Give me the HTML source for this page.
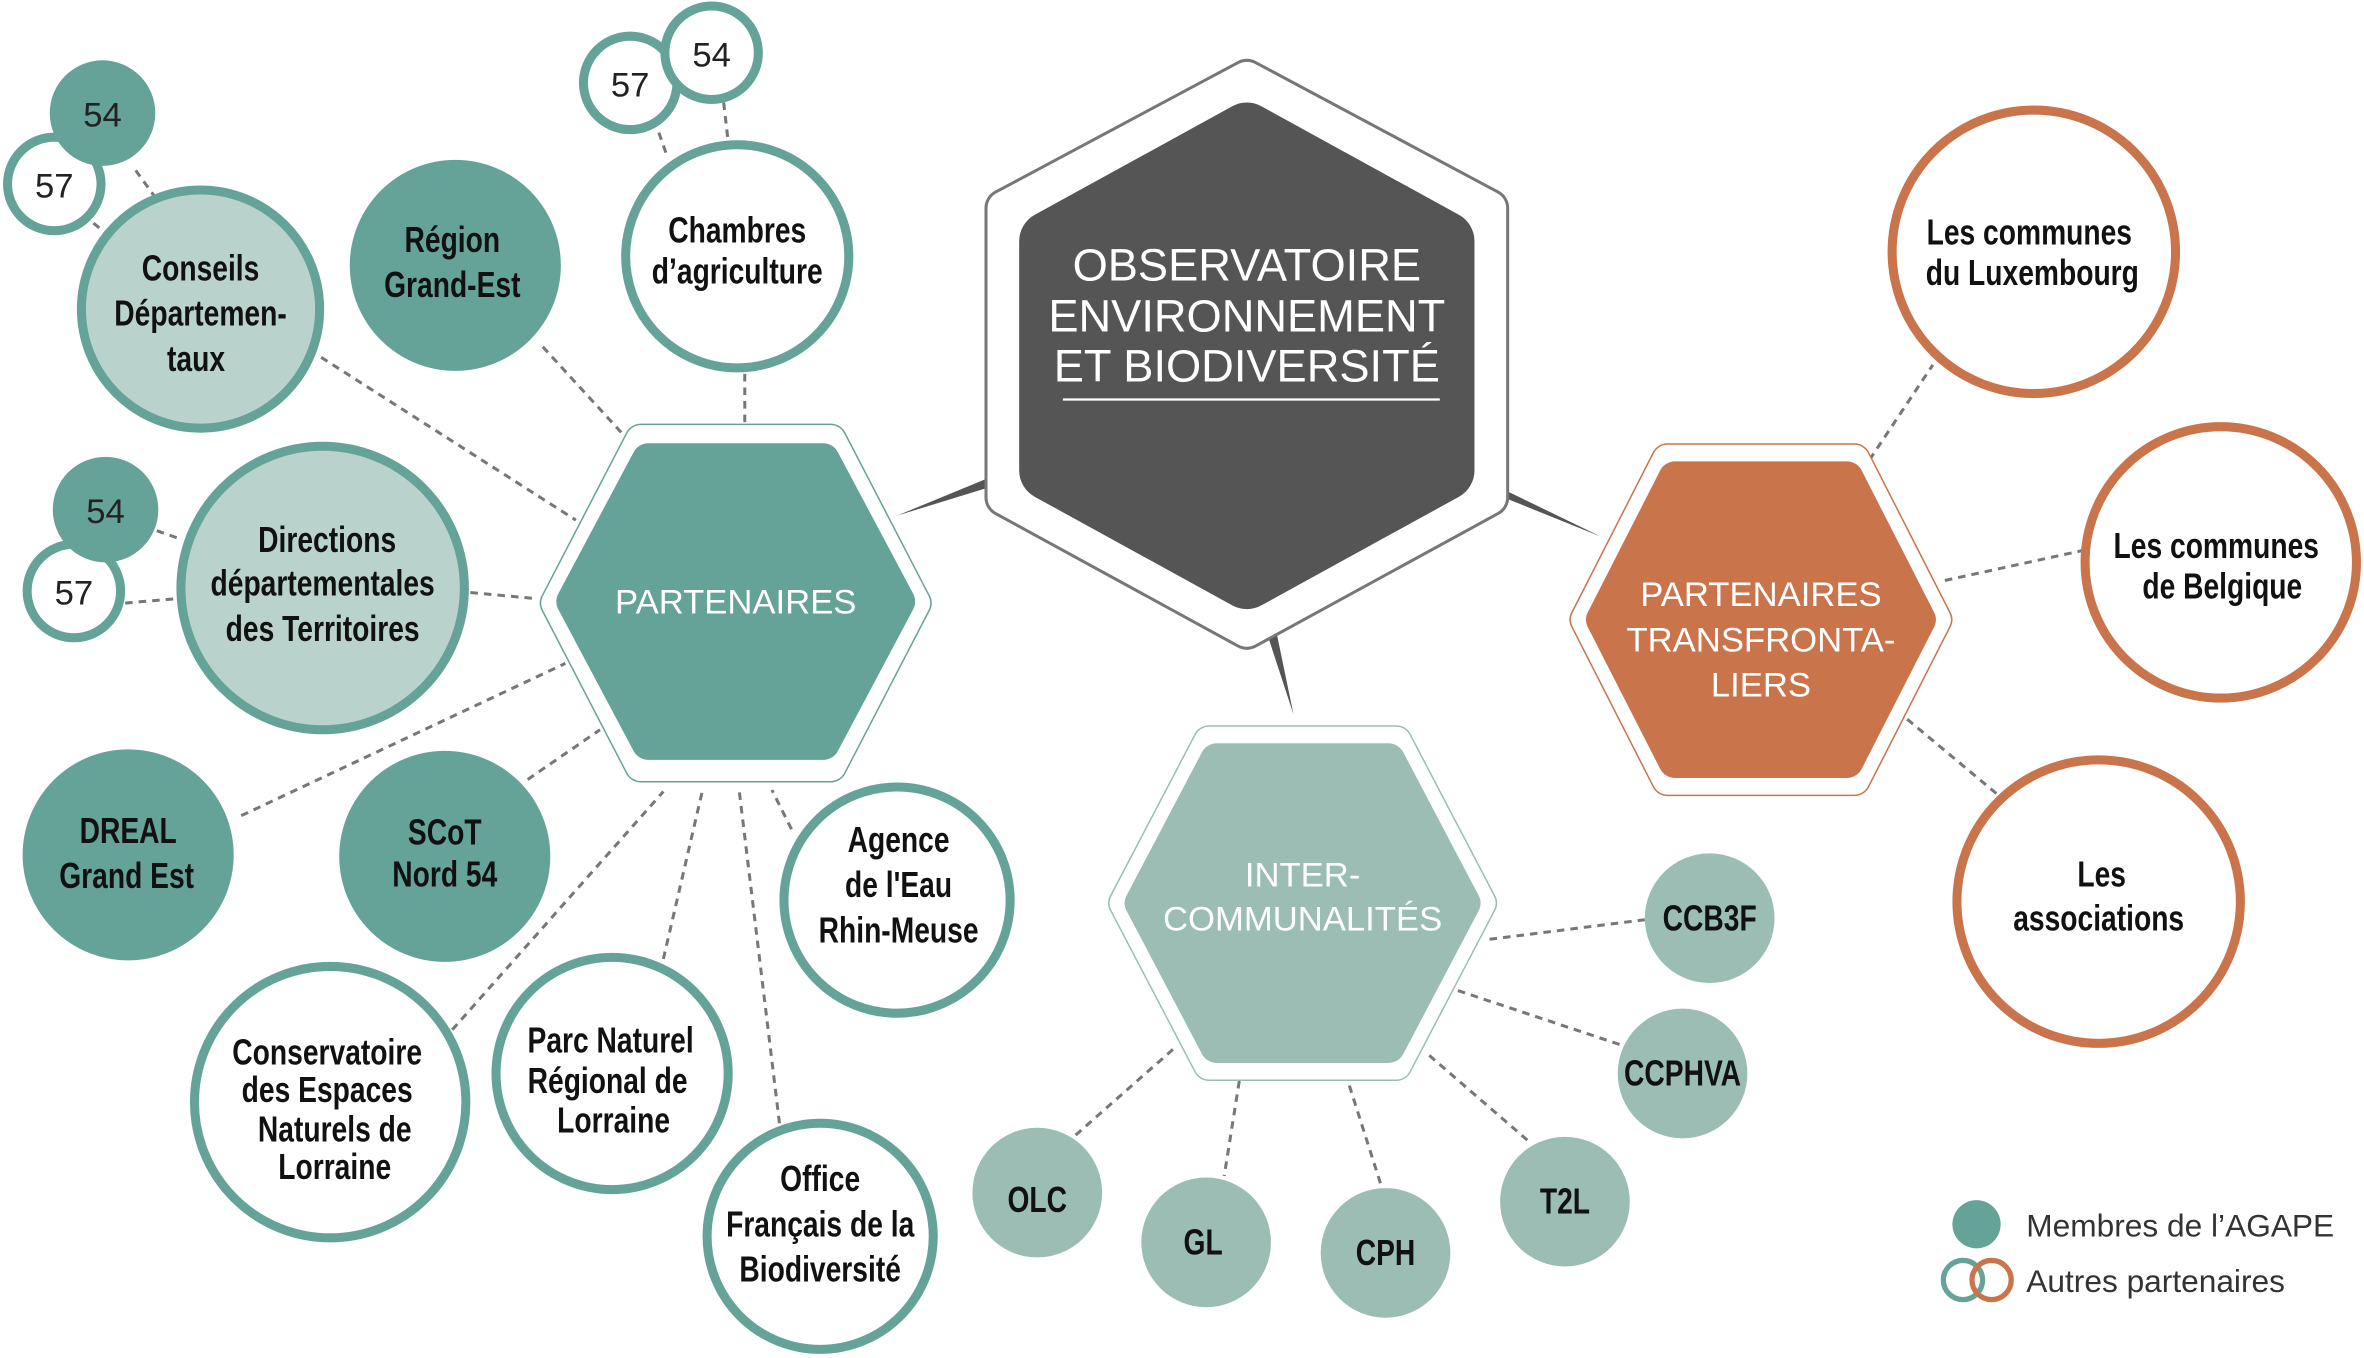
<!DOCTYPE html>
<html><head><meta charset="utf-8">
<style>
html,body{margin:0;padding:0;background:#fff;}
svg{display:block;}
.c{font-family:"Liberation Sans",sans-serif;font-weight:bold;font-size:24px;fill:#111;text-anchor:middle;}
.n{font-family:"Liberation Sans",sans-serif;font-size:23px;fill:#222;text-anchor:middle;}
.h{font-family:"Liberation Sans",sans-serif;font-size:23px;fill:#fff;text-anchor:middle;}
.d{stroke:#777;stroke-width:2;stroke-dasharray:5,4;fill:none;}
</style></head>
<body>
<svg width="2364" height="1358" viewBox="0 0 1568 900.7" preserveAspectRatio="none" xmlns="http://www.w3.org/2000/svg">
<g class="d">
<line x1="90" y1="113" x2="103" y2="131"/>
<line x1="62" y1="148" x2="74" y2="158"/>
<line x1="213" y1="237" x2="382" y2="345"/>
<line x1="360" y1="230" x2="415" y2="290"/>
<line x1="494" y1="248" x2="494" y2="280"/>
<line x1="437" y1="88" x2="443" y2="105"/>
<line x1="480" y1="68" x2="483" y2="94"/>
<line x1="104" y1="352" x2="121" y2="358"/>
<line x1="83" y1="400" x2="118" y2="397"/>
<line x1="312" y1="393" x2="355" y2="397"/>
<line x1="160" y1="541" x2="375" y2="440"/>
<line x1="350" y1="517" x2="398" y2="484"/>
<line x1="300" y1="683" x2="440" y2="525"/>
<line x1="440" y1="636" x2="466" y2="524"/>
<line x1="517" y1="745" x2="490" y2="522"/>
<line x1="525" y1="550" x2="512" y2="524"/>
<line x1="1240" y1="305" x2="1282" y2="242"/>
<line x1="1290" y1="385" x2="1382" y2="365"/>
<line x1="1265" y1="477" x2="1325" y2="527"/>
<line x1="988" y1="623" x2="1091" y2="610"/>
<line x1="967" y1="657" x2="1075" y2="693"/>
<line x1="948" y1="700" x2="1014" y2="757"/>
<line x1="895" y1="720" x2="916" y2="786"/>
<line x1="822" y1="717" x2="812" y2="780"/>
<line x1="778" y1="696" x2="711" y2="755"/>
</g>
<g fill="#555">
<polygon points="595,342 658,316 660,322"/>
<polygon points="998,325 1000,331 1062,356"/>
<polygon points="841,422 847,421 858,474"/>
</g>
<polygon points="827,52 988,138 988,330 827,418 666,330 666,138" fill="#777" stroke="#777" stroke-width="26" stroke-linejoin="round"/>
<polygon points="827,52 988,138 988,330 827,418 666,330 666,138" fill="#fff" stroke="#fff" stroke-width="22" stroke-linejoin="round"/>
<polygon points="827,88 958,160 958,312 827,384 696,312 696,160" fill="#555" stroke="#555" stroke-width="40" stroke-linejoin="round"/>
<g font-family="'Liberation Sans',sans-serif" font-size="30" fill="#fff" text-anchor="middle">
<text x="827" y="186">OBSERVATOIRE</text>
<text x="827" y="220">ENVIRONNEMENT</text>
<text x="827" y="253">ET BIODIVERSITÉ</text>
</g>
<line x1="705" y1="265" x2="955" y2="265" stroke="#fff" stroke-width="1.5"/>
<g>
<polygon points="425,292 551,292 607,400 551,508 425,508 369,400" fill="#65a398" stroke="#65a398" stroke-width="22" stroke-linejoin="round"/>
<polygon points="425,292 551,292 607,400 551,508 425,508 369,400" fill="#fff" stroke="#fff" stroke-width="20" stroke-linejoin="round"/>
<polygon points="430,305 546,305 596,399 546,493 430,493 380,399" fill="#65a398" stroke="#65a398" stroke-width="22" stroke-linejoin="round"/>
<text class="h" x="488" y="407">PARTENAIRES</text>
</g>
<g>
<polygon points="1106,305 1230,305 1284,411 1230,517 1106,517 1052,411" fill="#c9744b" stroke="#c9744b" stroke-width="22" stroke-linejoin="round"/>
<polygon points="1106,305 1230,305 1284,411 1230,517 1106,517 1052,411" fill="#fff" stroke="#fff" stroke-width="20" stroke-linejoin="round"/>
<polygon points="1111,317 1225,317 1273,411 1225,505 1111,505 1063,411" fill="#c9744b" stroke="#c9744b" stroke-width="22" stroke-linejoin="round"/>
<text class="h" x="1168" y="402">PARTENAIRES</text>
<text class="h" x="1168" y="432">TRANSFRONTA-</text>
<text class="h" x="1168" y="462">LIERS</text>
</g>
<g>
<polygon points="802,492 926,492 982,599 926,706 802,706 746,599" fill="#9bbdb4" stroke="#9bbdb4" stroke-width="22" stroke-linejoin="round"/>
<polygon points="802,492 926,492 982,599 926,706 802,706 746,599" fill="#fff" stroke="#fff" stroke-width="20" stroke-linejoin="round"/>
<polygon points="807,504 921,504 971,599 921,694 807,694 757,599" fill="#9bbdb4" stroke="#9bbdb4" stroke-width="22" stroke-linejoin="round"/>
<text class="h" x="864" y="588">INTER-</text>
<text class="h" x="864" y="617">COMMUNALITÉS</text>
</g>
<g stroke-width="6">
<circle cx="36" cy="122" r="31" fill="#fff" stroke="#65a398"/>
<circle cx="68" cy="75" r="35" fill="#65a398" stroke="none"/>
<circle cx="133" cy="205" r="79" fill="#b9d3cc" stroke="#65a398"/>
<circle cx="302" cy="176" r="70" fill="#65a398" stroke="none"/>
<circle cx="418" cy="55" r="31" fill="#fff" stroke="#65a398"/>
<circle cx="472" cy="35" r="31" fill="#fff" stroke="#65a398"/>
<circle cx="489" cy="170" r="74" fill="#fff" stroke="#65a398"/>
<circle cx="49" cy="392" r="31" fill="#fff" stroke="#65a398"/>
<circle cx="70" cy="338" r="35" fill="#65a398" stroke="none"/>
<circle cx="214" cy="390" r="94" fill="#b9d3cc" stroke="#65a398"/>
<circle cx="85" cy="567" r="70" fill="#65a398" stroke="none"/>
<circle cx="295" cy="568" r="70" fill="#65a398" stroke="none"/>
<circle cx="595" cy="597" r="75" fill="#fff" stroke="#65a398"/>
<circle cx="219" cy="731" r="90" fill="#fff" stroke="#65a398"/>
<circle cx="406" cy="712" r="77" fill="#fff" stroke="#65a398"/>
<circle cx="544" cy="820" r="75" fill="#fff" stroke="#65a398"/>
<circle cx="1349" cy="167" r="94" fill="#fff" stroke="#c9744b"/>
<circle cx="1473" cy="373" r="90" fill="#fff" stroke="#c9744b"/>
<circle cx="1392" cy="598" r="94" fill="#fff" stroke="#c9744b"/>
<g fill="#9bbdb4" stroke="none">
<circle cx="1134" cy="609" r="43"/><circle cx="1116" cy="712" r="43"/>
<circle cx="1038" cy="797" r="43"/><circle cx="919" cy="831" r="43"/>
<circle cx="800" cy="824" r="43"/><circle cx="688" cy="791" r="43"/>
</g>
</g>
<text class="n" x="68" y="84">54</text>
<text class="n" x="36" y="131">57</text>
<text class="n" x="418" y="64">57</text>
<text class="n" x="472" y="44">54</text>
<text class="n" x="70" y="347">54</text>
<text class="n" x="49" y="401">57</text>
<g class="c">
<g transform="translate(133,186) scale(.78,1)"><text>Conseils</text></g>
<g transform="translate(133,216) scale(.78,1)"><text>Départemen-</text></g>
<g transform="translate(130,246) scale(.78,1)"><text>taux</text></g>
<g transform="translate(300,167) scale(.78,1)"><text>Région</text></g>
<g transform="translate(300,197) scale(.78,1)"><text>Grand-Est</text></g>
<g transform="translate(489,161) scale(.78,1)"><text>Chambres</text></g>
<g transform="translate(489,188) scale(.78,1)"><text>d’agriculture</text></g>
<g transform="translate(217,366) scale(.78,1)"><text>Directions</text></g>
<g transform="translate(214,395) scale(.78,1)"><text>départementales</text></g>
<g transform="translate(214,425) scale(.78,1)"><text>des Territoires</text></g>
<g transform="translate(85,559) scale(.78,1)"><text>DREAL</text></g>
<g transform="translate(84,589) scale(.78,1)"><text>Grand Est</text></g>
<g transform="translate(295,560) scale(.78,1)"><text>SCoT</text></g>
<g transform="translate(295,588) scale(.78,1)"><text>Nord 54</text></g>
<g transform="translate(596,565) scale(.78,1)"><text>Agence</text></g>
<g transform="translate(596,595) scale(.78,1)"><text>de l'Eau</text></g>
<g transform="translate(596,625) scale(.78,1)"><text>Rhin-Meuse</text></g>
<g transform="translate(217,706) scale(.78,1)"><text>Conservatoire</text></g>
<g transform="translate(217,731) scale(.78,1)"><text>des Espaces</text></g>
<g transform="translate(222,757) scale(.78,1)"><text>Naturels de</text></g>
<g transform="translate(222,782) scale(.78,1)"><text>Lorraine</text></g>
<g transform="translate(405,698) scale(.78,1)"><text>Parc Naturel</text></g>
<g transform="translate(403,725) scale(.78,1)"><text>Régional de</text></g>
<g transform="translate(407,751) scale(.78,1)"><text>Lorraine</text></g>
<g transform="translate(544,790) scale(.78,1)"><text>Office</text></g>
<g transform="translate(544,820) scale(.78,1)"><text>Français de la</text></g>
<g transform="translate(544,850) scale(.78,1)"><text>Biodiversité</text></g>
<g transform="translate(1346,162) scale(.78,1)"><text>Les communes</text></g>
<g transform="translate(1348,189) scale(.78,1)"><text>du Luxembourg</text></g>
<g transform="translate(1470,370) scale(.78,1)"><text>Les communes</text></g>
<g transform="translate(1474,397) scale(.78,1)"><text>de Belgique</text></g>
<g transform="translate(1394,588) scale(.78,1)"><text>Les</text></g>
<g transform="translate(1392,617) scale(.78,1)"><text>associations</text></g>
<g transform="translate(1134,617) scale(.78,1)"><text>CCB3F</text></g>
<g transform="translate(1116,720) scale(.78,1)"><text>CCPHVA</text></g>
<g transform="translate(1038,805) scale(.78,1)"><text>T2L</text></g>
<g transform="translate(919,839) scale(.78,1)"><text>CPH</text></g>
<g transform="translate(798,832) scale(.78,1)"><text>GL</text></g>
<g transform="translate(688,804) scale(.78,1)"><text>OLC</text></g>
</g>
<circle cx="1311" cy="812" r="16" fill="#65a398"/>
<circle cx="1302" cy="849" r="13" fill="none" stroke="#65a398" stroke-width="3.5"/>
<circle cx="1321" cy="849" r="13" fill="none" stroke="#c9744b" stroke-width="3.5"/>
<g font-family="'Liberation Sans',sans-serif" font-size="21" fill="#333">
<text x="1344" y="820">Membres de l’AGAPE</text>
<text x="1344" y="857">Autres partenaires</text>
</g>
</svg>
</body></html>
